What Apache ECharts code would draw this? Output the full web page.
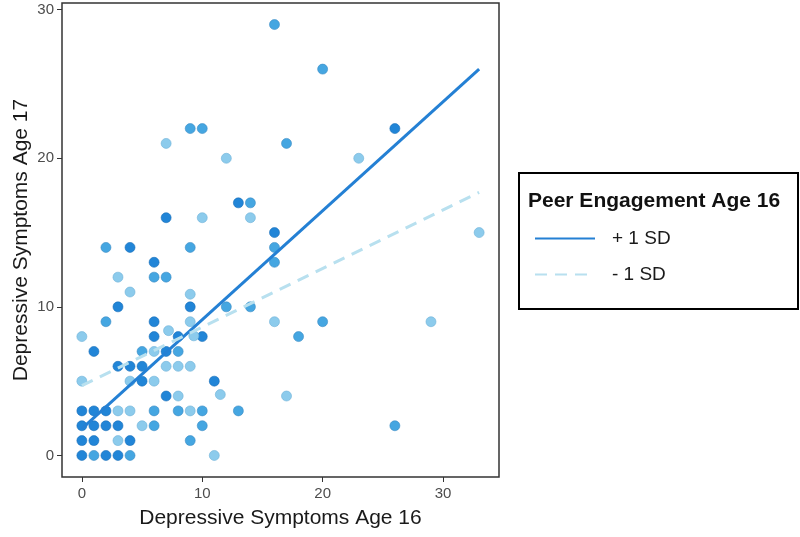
<!DOCTYPE html>
<html>
<head>
<meta charset="utf-8">
<script src="https://cdn.jsdelivr.net/npm/echarts@6/dist/echarts.min.js"></script>
<style>html,body{margin:0;padding:0;background:#fff}#c{width:800px;height:537px}</style>
</head>
<body>
<div id="c"></div>
<script>
// ---- data ----
var xTicks = [0, 10, 20, 30];
var yTicks = [0, 10, 20, 30];
var darkPoints = [[0,0],[2,0],[3,0],[0,1],[1,1],[4,1],[0,2],[1,2],[2,2],[3,2],[0,3],[1,3],[2,3],
  [7,4],[5,5],[11,5],[3,6],[4,6],[5,6],[1,7],[7,7],[6,8],[8,8],[10,8],[6,9],[3,10],[9,10],
  [6,13],[4,14],[16,15],[7,16],[13,17],[26,22]];
var mediumPoints = [[1,0],[4,0],[9,1],[6,2],[10,2],[26,2],[6,3],[8,3],[10,3],[13,3],[5,7],[8,7],
  [2,9],[20,9],[18,8],[12,10],[14,10],[6,12],[7,12],[2,14],[9,14],[16,13],[16,14],[14,17],
  [9,22],[10,22],[17,21],[20,26],[16,29]];
var lightPoints = [[11,0],[3,1],[5,2],[3,3],[4,3],[9,3],[8,4],[11.5,4.1],[17,4],[0,5],[4,5],[6,5],
  [7,6],[8,6],[9,6],[6,7],[0,8],[7.2,8.4],[9.3,8.05],[9,9],[16,9],[29,9],[9,10.85],[4,11],[3,12],
  [10,16],[14,16],[12,20],[23,20],[7,21],[33,15]];
var lineX = [0, 33];
var plusSD = [1.8, 26.0];
var minusSD = [4.7, 17.7];
var seriesNames = ['+ 1 SD', '- 1 SD'];

function pairs(xs, ys){ return xs.map(function(x,i){ return [x, ys[i]]; }); }

var chart = echarts.init(document.getElementById('c'), null, {renderer:'canvas'});
var ff = '"Liberation Sans", Arial, sans-serif';
function pointSeries(data, color, border){
  return {type:'scatter', data:data, symbolSize:10, z:2,
    itemStyle:{color:color, borderColor:border, borderWidth:0.6, opacity:1},
    emphasis:{disabled:true}};
}
chart.setOption({
  animation:false,
  textStyle:{fontFamily:ff},
  grid:{left:62, right:301, top:3, bottom:60, show:true, borderColor:'#333', borderWidth:1.5,
    backgroundColor:'#fff', containLabel:false, outerBoundsMode:'none'},
  xAxis:{type:'value', min:-1.65, max:34.65,
    name:'Depressive Symptoms Age 16', nameLocation:'middle', nameGap:31, nameMoveOverlap:false,
    nameTextStyle:{fontSize:21, color:'#1a1a1a', fontFamily:ff},
    axisLine:{show:false, onZero:false}, splitLine:{show:false},
    axisTick:{show:true, length:5, lineStyle:{color:'#333', width:1}, customValues:xTicks},
    axisLabel:{color:'#4d4d4d', fontSize:15, margin:9, customValues:xTicks, fontFamily:ff}},
  yAxis:{type:'value', min:-1.45, max:30.45,
    name:'Depressive Symptoms Age 17', nameLocation:'middle', nameGap:30, nameMoveOverlap:false,
    nameTextStyle:{fontSize:21, color:'#1a1a1a', fontFamily:ff},
    axisLine:{show:false, onZero:false}, splitLine:{show:false},
    axisTick:{show:true, length:5, lineStyle:{color:'#333', width:1}, customValues:yTicks},
    axisLabel:{color:'#4d4d4d', fontSize:15, margin:8, customValues:yTicks, fontFamily:ff}},
  legend:{data:seriesNames, orient:'vertical', left:529, top:224, itemWidth:60, itemHeight:14,
    itemGap:17, textStyle:{fontSize:19, color:'#1a1a1a', fontFamily:ff, padding:[0,0,0,12]},
    itemStyle:{opacity:0}, selectedMode:false},
  graphic:[
    {type:'rect', left:518, top:172, shape:{width:279, height:136},
      style:{fill:'#fff', stroke:'#000', lineWidth:2}, z:-1},
    {type:'text', left:528, top:191, style:{text:'Peer Engagement Age 16', font:'bold 21px '+ff, fill:'#111'}}
  ],
  series:[
    pointSeries(darkPoints, '#2185d7', '#1a6fb8'),
    pointSeries(mediumPoints, '#45a6e1', '#3a8cc4'),
    pointSeries(lightPoints, '#8ccbec', '#6fb2d8'),
    {name:seriesNames[0], type:'line', data:pairs(lineX, plusSD), symbol:'none', z:5,
      lineStyle:{color:'#2480d4', width:3}, itemStyle:{color:'#2480d4'}},
    {name:seriesNames[1], type:'line', data:pairs(lineX, minusSD), symbol:'none', z:5,
      lineStyle:{color:'#b8e0ef', width:3, type:[12,8]}, itemStyle:{color:'#b8e0ef'}}
  ]
});
</script>
</body>
</html>
